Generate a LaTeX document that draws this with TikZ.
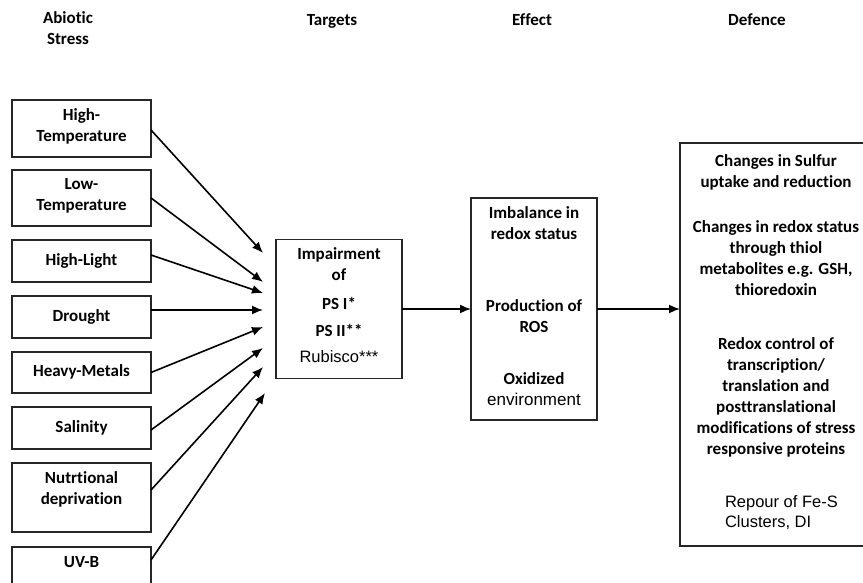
\documentclass[tikz,border=0pt]{standalone}
\usepackage{fontspec}
\setmainfont{Carlito}[Ligatures=NoCommon]
\newfontfamily\arialf{Liberation Sans}
\usetikzlibrary{arrows.meta}
\begin{document}
\begin{tikzpicture}[x=1pt,y=-1pt,
  every node/.style={inner sep=0pt, outer sep=0pt},
  txt/.style={font=\fontsize{17}{21}\selectfont\bfseries, align=center,
    execute at begin node=\strut, execute at end node=\strut, text=black},
  plain/.style={font=\fontsize{16.5}{19.5}\selectfont\arialf, align=left, text=black},
  box/.style={draw=black!85, line width=1.3pt, minimum width=139pt},
  arr/.style={draw=black, line width=1.6pt, -{Latex[length=11pt,width=9pt]}}]
\clip (0,0) rectangle (863,583);
\fill[white] (0,0) rectangle (863,583);
% headers
\node[txt] (hd1) at (68,31.5) {Abiotic\\Stress};
\node[txt] (hd2) at (332,21) {Targets};
\node[txt] (hd3) at (532,21) {Effect};
\node[txt] (hd4) at (757,21) {Defence};
% left boxes
\node[box,txt,minimum height=57pt] (ht) at (81.5,128.5) {High-\\Temperature};
\node[box,txt,minimum height=56pt] (lt) at (81.5,198) {Low-\\Temperature};
\node[box,txt,minimum height=42pt] (hl) at (81.5,261) {High-Light};
\node[box,txt,minimum height=42pt] (dr) at (81.5,317) {Drought};
\node[box,txt,minimum height=41pt] (hm) at (81.5,372.5) {Heavy-Metals};
\node[box,txt,minimum height=42pt] (sa) at (81.5,428) {Salinity};
\node[box,minimum height=69pt] (nd) at (81.5,497.5) {};
\node[txt] (ndt) at (81.5,491) {Nutrtional\\deprivation};
\node[box,minimum height=60pt] (uv) at (81.5,577) {};
\node[txt] (uvt) at (81.5,563) {UV-B};
% targets
\node[box,minimum width=126pt,minimum height=139pt] (tg) at (339,309) {};
\node[txt] (tg1) at (339,267.5) {Impairment\\of};
\node[txt] (tg2) at (339,305) {PS I*};
\node[txt] (tg3) at (339,332) {PS II**};
\node[txt,font=\fontsize{16.5}{21}\selectfont\arialf] (tg4) at (339,358) {Rubisco***};
% effect
\node[box,minimum width=126pt,minimum height=222pt] (ef) at (534,309) {};
\node[txt] (ef1) at (534,226) {Imbalance in\\redox status};
\node[txt] (ef2) at (534,319) {Production of\\ROS};
\node[txt] (ef3) at (534,392) {Oxidized\\{\arialf\mdseries environment}};
% defence
\node[box,minimum width=192pt,minimum height=403pt] (df) at (776,344.5) {};
\node[txt] (df1) at (776,174) {Changes in Sulfur\\uptake and reduction};
\node[txt] (df2) at (776,260.75) {Changes in redox status\\through thiol\\metabolites e.g. GSH,\\thioredoxin};
\node[txt] (df3) at (776,398.8) {Redox control of\\transcription/\\translation and\\posttranslational\\modifications of stress\\responsive proteins};
\node[plain,anchor=west] (df4) at (725,512.5) {Repour of Fe-S\\Clusters, DI};
% arrow tips
\coordinate (t1) at (263,253);
\coordinate (t2) at (263,282);
\coordinate (t3) at (263,293);
\coordinate (t4) at (263,310);
\coordinate (t5) at (263,327);
\coordinate (t6) at (263,348);
\coordinate (t7) at (263,367);
\coordinate (t8) at (265,393);
\draw[arr] ([yshift=-1.5pt]ht.east) -- (t1);
\draw[arr] (lt.east) -- (t2);
\draw[arr] ([yshift=6pt]hl.east) -- (t3);
\draw[arr] ([yshift=7pt]dr.east) -- (t4);
\draw[arr] (hm.east) -- (t5);
\draw[arr] ([yshift=-2pt]sa.east) -- (t6);
\draw[arr] ([yshift=7.5pt]nd.east) -- (t7);
\draw[arr] ([yshift=17pt]uv.east) -- (t8);
\draw[arr] (tg.east) -- (tg.east -| ef.west);
\draw[arr] (ef.east) -- (ef.east -| df.west);
\end{tikzpicture}
\end{document}
